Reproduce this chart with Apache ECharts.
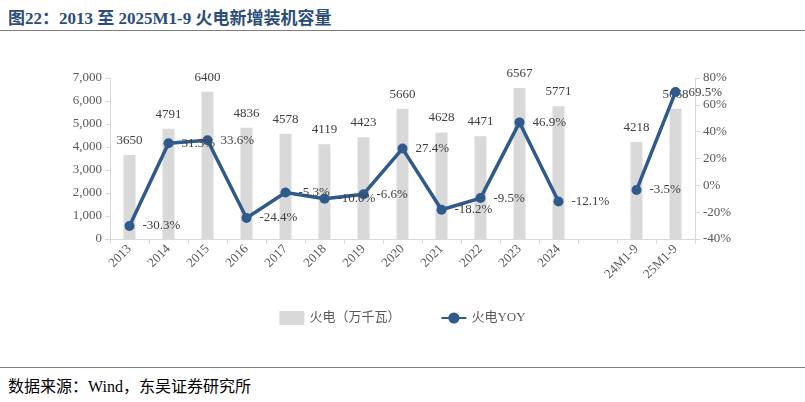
<!DOCTYPE html>
<html>
<head>
<meta charset="utf-8"/>
<script src="https://cdn.jsdelivr.net/npm/echarts@6/dist/echarts.min.js"></script>
<style>
body{margin:0;background:#fff;font-family:"Liberation Serif","Noto Sans CJK SC",serif;}
#title{position:absolute;left:8px;top:4px;font-size:17px;font-weight:bold;color:#2b4d7a;}
#tline{position:absolute;left:0;top:30px;width:805px;border-top:1px solid #7f7f7f;}
#bline{position:absolute;left:0;top:367px;width:805px;border-top:1px solid #7f7f7f;}
#src{position:absolute;left:8px;top:373px;font-size:16px;color:#000;}
#main{position:absolute;left:0;top:32px;width:805px;height:334px;}
</style>
</head>
<body>
<div id="title">图22：2013 至 2025M1-9 火电新增装机容量</div>
<div id="tline"></div>
<div id="main"></div>
<div id="bline"></div>
<div id="src">数据来源：Wind，东吴证券研究所</div>
<script type="text/javascript">
var categories = ['2013','2014','2015','2016','2017','2018','2019','2020','2021','2022','2023','2024','','24M1-9','25M1-9'];
var capacity = [3650,4791,6400,4836,4578,4119,4423,5660,4628,4471,6567,5771,null,4218,5668];
var yoy = [-30.3,31.3,33.6,-24.4,-5.3,-10.0,-6.6,27.4,-18.2,-9.5,46.9,-12.1,null,-3.5,69.5];

var font = '"Liberation Serif","Noto Sans CJK SC",serif';
var myChart = echarts.init(document.getElementById('main'));
myChart.setOption({
    animation: false,
    textStyle: {fontFamily: font},
    grid: {left: 110, right: 110, top: 46, bottom: 127},
    legend: {
        bottom: 36, left: 'center', itemGap: 40,
        textStyle: {fontFamily: font, fontSize: 13, color: '#595959'},
        data: [{name: '火电（万千瓦）', icon: 'rect'}, {name: '火电YOY'}]
    },
    xAxis: {
        type: 'category', data: categories,
        axisLine: {lineStyle: {color: '#d9d9d9'}},
        axisTick: {show: true, alignWithLabel: false, lineStyle: {color: '#d9d9d9'}},
        axisLabel: {rotate: 45, color: '#595959', fontSize: 13, fontFamily: font, interval: 0}
    },
    yAxis: [{
        type: 'value', min: 0, max: 7000, interval: 1000,
        splitLine: {show: false},
        axisLine: {show: true, lineStyle: {color: '#d9d9d9'}},
        axisTick: {show: true, lineStyle: {color: '#d9d9d9'}},
        axisLabel: {color: '#595959', fontSize: 13, fontFamily: font,
            formatter: function (v) { return v.toLocaleString('en-US'); }}
    }, {
        type: 'value', min: -40, max: 80, interval: 20,
        splitLine: {show: false},
        axisLine: {show: true, lineStyle: {color: '#d9d9d9'}},
        axisTick: {show: true, lineStyle: {color: '#d9d9d9'}},
        axisLabel: {color: '#595959', fontSize: 13, fontFamily: font, formatter: '{value}%'}
    }],
    series: [{
        name: '火电（万千瓦）', type: 'bar', data: capacity, barWidth: 12,
        itemStyle: {color: '#d9d9d9'},
        label: {show: true, position: 'top', distance: 8, color: '#404040', fontSize: 13, fontFamily: font}
    }, {
        name: '火电YOY', type: 'line', yAxisIndex: 1, data: yoy,
        connectNulls: false,
        symbol: 'circle', symbolSize: 10,
        lineStyle: {color: '#2f5a8c', width: 3.5},
        itemStyle: {color: '#2f5a8c'},
        label: {show: true, position: 'right', distance: 8, color: '#404040', fontSize: 13, fontFamily: font,
            formatter: function (p) { return p.value.toFixed(1) + '%'; }}
    }]
});
</script>
</body>
</html>
